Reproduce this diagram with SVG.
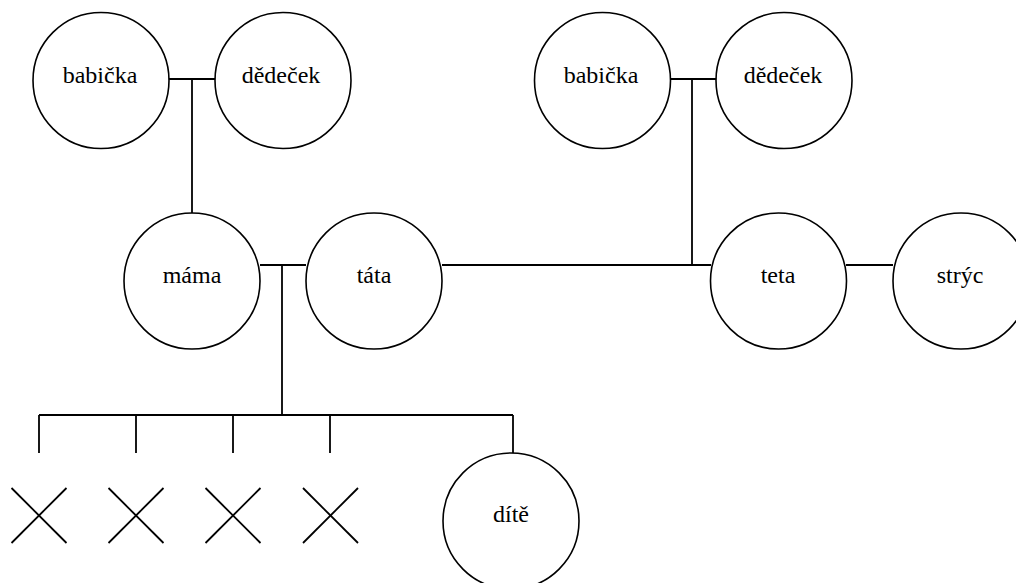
<svg xmlns="http://www.w3.org/2000/svg" width="1016" height="583" viewBox="0 0 1016 583">
<style>
.n circle{fill:#fff;stroke:#000;stroke-width:1.6}
.n text{font-family:'Liberation Serif','Times New Roman','DejaVu Serif',serif;font-size:24px;fill:#000;text-anchor:middle}
#connectors line{stroke:#000;stroke-width:1.8}
.x line{stroke:#000;stroke-width:1.8}
</style>
<rect width="1016" height="583" fill="#fff"/>
<g id="connectors">
<line x1="169" y1="79" x2="215" y2="79"/>
<line x1="192" y1="79" x2="192" y2="213"/>
<line x1="670" y1="79" x2="716" y2="79"/>
<line x1="692" y1="79" x2="692" y2="265"/>
<line x1="260" y1="265" x2="306" y2="265"/>
<line x1="442" y1="265" x2="711" y2="265"/>
<line x1="846" y1="265" x2="893" y2="265"/>
<line x1="282" y1="265" x2="282" y2="415"/>
<line x1="39" y1="415" x2="513" y2="415"/>
<line x1="39" y1="415" x2="39" y2="453"/>
<line x1="136" y1="415" x2="136" y2="453"/>
<line x1="233" y1="415" x2="233" y2="453"/>
<line x1="330" y1="415" x2="330" y2="453"/>
<line x1="513" y1="415" x2="513" y2="453"/>
</g>
<g id="babicka1" class="n"><circle cx="101" cy="80.5" r="68"/><text x="100" y="83" font-family="Liberation Serif, serif">babička</text></g>
<g id="dedecek1" class="n"><circle cx="283" cy="80.5" r="68"/><text x="281" y="83" font-family="Liberation Serif, serif">dědeček</text></g>
<g id="babicka2" class="n"><circle cx="602.5" cy="80.5" r="68"/><text x="601" y="83" font-family="Liberation Serif, serif">babička</text></g>
<g id="dedecek2" class="n"><circle cx="784" cy="80.5" r="68"/><text x="783" y="83" font-family="Liberation Serif, serif">dědeček</text></g>
<g id="mama" class="n"><circle cx="192" cy="281" r="68"/><text x="192" y="283" font-family="Liberation Serif, serif">máma</text></g>
<g id="tata" class="n"><circle cx="374" cy="281" r="68"/><text x="374" y="283" font-family="Liberation Serif, serif">táta</text></g>
<g id="teta" class="n"><circle cx="778.5" cy="281" r="68"/><text x="778" y="283" font-family="Liberation Serif, serif">teta</text></g>
<g id="stryc" class="n"><circle cx="961" cy="281" r="68"/><text x="960" y="283" font-family="Liberation Serif, serif">strýc</text></g>
<g id="dite" class="n"><circle cx="511" cy="521" r="68"/><text x="511" y="522" font-family="Liberation Serif, serif">dítě</text></g>
<g id="x1" class="x"><line x1="11.5" y1="488" x2="66.5" y2="543"/><line x1="66.5" y1="488" x2="11.5" y2="543"/></g>
<g id="x2" class="x"><line x1="108.5" y1="488" x2="163.5" y2="543"/><line x1="163.5" y1="488" x2="108.5" y2="543"/></g>
<g id="x3" class="x"><line x1="205.5" y1="488" x2="260.5" y2="543"/><line x1="260.5" y1="488" x2="205.5" y2="543"/></g>
<g id="x4" class="x"><line x1="303" y1="488" x2="358" y2="543"/><line x1="358" y1="488" x2="303" y2="543"/></g>
</svg>
